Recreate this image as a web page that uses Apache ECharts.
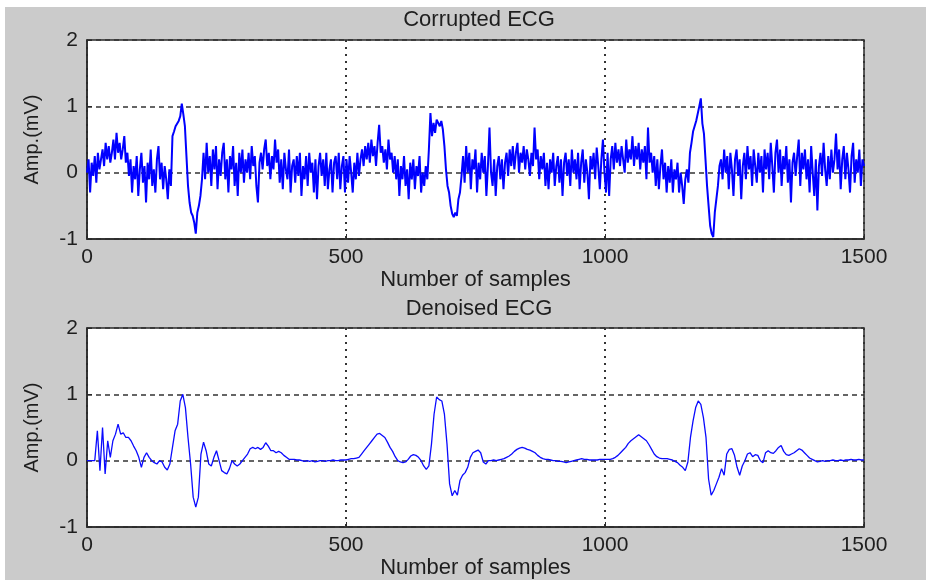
<!DOCTYPE html>
<html>
<head>
<meta charset="utf-8">
<script src="https://cdn.jsdelivr.net/npm/echarts@6/dist/echarts.min.js"></script>
<style>
  html, body { margin: 0; padding: 0; background: #ffffff; }
  #chart { width: 927px; height: 580px; }
</style>
</head>
<body>
<div id="chart"></div>
<script>
// sample spacing of each array
const CORRUPTED_STEP = 3;
const DENOISED_STEP = 5;

// corrupted ECG, one value every 3 samples (0..1500)
const corrupted = [
  0.0, 0.2, -0.3, 0.15, -0.05, 0.25, -0.15, 0.3, 0.05, 0.2, 0.35, 0.1, 0.45, 0.2, 0.4, 0.15, 0.3, 0.5, 0.2, 0.6,
  0.3, 0.45, 0.2, 0.35, 0.55, 0.15, 0.3, -0.05, 0.2, -0.3, 0.1, -0.1, 0.25, -0.35, 0.05, 0.3, -0.15, 0.1, -0.45, 0.15,
  -0.1, 0.35, -0.2, 0.05, -0.3, 0.2, 0.4, -0.1, 0.15, -0.25, 0.1, -0.1, -0.4, 0.05, -0.2, 0.55, 0.62, 0.7, 0.68, 0.78,
  0.85, 1.04, 0.88, 0.7, 0.25, -0.2, -0.45, -0.6, -0.65, -0.75, -0.92, -0.6, -0.5, -0.35, -0.1, 0.3, -0.1, 0.45, 0.0, 0.25,
  -0.2, 0.35, 0.05, 0.4, -0.25, 0.2, -0.05, 0.3, 0.45, -0.1, 0.2, -0.3, 0.25, 0.05, 0.4, -0.2, 0.15, -0.35, 0.3, 0.0,
  0.35, -0.15, 0.2, 0.0, 0.3, -0.1, 0.4, 0.1, 0.25, -0.2, -0.45, 0.15, 0.3, 0.05, 0.35, 0.5, 0.1, 0.3, -0.1, 0.25,
  0.05, 0.5, 0.15, 0.35, -0.15, 0.2, -0.25, 0.3, 0.05, -0.1, 0.35, -0.3, 0.1, 0.2, -0.15, 0.25, -0.05, 0.3, -0.35, 0.1,
  -0.1, 0.25, -0.2, 0.3, 0.0, 0.15, -0.3, 0.2, -0.4, 0.1, 0.3, -0.05, 0.2, -0.2, 0.3, -0.25, 0.05, 0.2, -0.3, 0.15,
  0.25, -0.1, 0.3, -0.25, 0.1, 0.25, -0.3, 0.2, -0.15, 0.25, 0.0, -0.3, 0.15, -0.1, 0.3, -0.05, 0.2, 0.35, 0.1, 0.4,
  0.2, 0.45, 0.15, 0.5, 0.25, 0.4, 0.1, 0.45, 0.72, 0.3, 0.4, 0.15, 0.35, 0.05, 0.5, 0.2, 0.3, 0.0, 0.25, -0.1,
  0.2, -0.35, 0.1, -0.1, 0.25, -0.2, 0.05, -0.4, 0.15, -0.1, 0.2, -0.25, 0.1, -0.05, 0.25, -0.3, 0.0, -0.2, 0.1, -0.1,
  0.35, 0.9, 0.55, 0.75, 0.6, 0.8, 0.83, 0.7, 0.78, 0.65, 0.4, 0.05, -0.2, -0.3, -0.5, -0.62, -0.67, -0.6, -0.65, -0.4,
  -0.3, -0.05, 0.25, -0.15, 0.4, 0.0, 0.3, -0.25, 0.2, 0.05, 0.35, -0.3, 0.15, -0.1, 0.3, 0.0, 0.25, -0.35, 0.1, 0.68,
  0.0, -0.2, 0.2, -0.35, 0.1, 0.25, -0.1, 0.2, -0.25, 0.15, 0.3, -0.05, 0.35, 0.1, 0.4, 0.05, 0.3, 0.45, 0.0, 0.3,
  0.15, 0.4, 0.05, 0.35, 0.2, -0.05, 0.3, 0.1, 0.68, 0.2, 0.35, -0.1, 0.25, 0.05, 0.3, -0.2, 0.15, -0.25, 0.2, 0.0,
  0.3, -0.2, 0.1, 0.25, -0.15, 0.2, -0.35, 0.15, 0.3, -0.05, 0.2, -0.2, 0.35, 0.0, 0.2, -0.1, 0.3, -0.25, 0.15, 0.35,
  -0.15, 0.2, 0.0, -0.4, 0.25, 0.05, 0.3, -0.1, 0.38, 0.1, -0.25, 0.2, 0.5, 0.0, -0.3, 0.3, -0.35, 0.2, 0.4, 0.05,
  0.45, 0.15, 0.35, 0.1, 0.4, 0.2, 0.0, 0.5, 0.15, 0.35, 0.2, 0.55, 0.1, 0.4, 0.2, 0.45, 0.05, 0.35, 0.15, 0.4,
  -0.1, 0.68, 0.15, 0.3, 0.0, 0.25, -0.2, 0.2, -0.25, 0.1, 0.35, -0.1, 0.15, -0.3, 0.1, -0.15, 0.2, -0.3, 0.05, -0.1,
  0.15, -0.3, 0.0, -0.2, -0.47, -0.1, 0.05, -0.15, 0.3, 0.45, 0.62, 0.7, 0.78, 0.8, 1.0, 1.12, 0.74, 0.59, 0.2, -0.2,
  -0.5, -0.8, -0.92, -0.97, -0.6, -0.4, -0.2, 0.1, 0.2, -0.1, 0.35, 0.0, 0.25, -0.25, 0.3, 0.05, -0.35, 0.2, 0.35, -0.05,
  0.2, -0.4, 0.1, 0.3, -0.1, 0.4, 0.05, 0.25, -0.2, 0.35, 0.1, -0.15, 0.3, 0.0, 0.25, -0.3, 0.35, 0.05, 0.3, -0.1,
  0.45, 0.1, -0.3, 0.3, 0.5, 0.0, 0.35, -0.2, 0.25, 0.05, 0.4, -0.15, 0.2, -0.45, 0.15, 0.3, -0.05, 0.25, 0.5, -0.2,
  0.3, 0.05, 0.35, -0.1, 0.2, -0.3, 0.4, 0.0, -0.35, 0.2, -0.57, 0.1, 0.3, -0.05, 0.45, 0.05, -0.2, 0.25, -0.1, 0.35,
  0.0, 0.2, 0.59, 0.05, 0.35, -0.25, 0.2, 0.4, -0.1, 0.3, 0.05, -0.3, 0.25, 0.45, -0.15, 0.2, 0.0, 0.35, -0.2, 0.2,
  0.1
];

// denoised ECG, one value every 5 samples (0..1500)
const denoised = [
  0, 0, 0, 0, 0.45, -0.15, 0.5, -0.2, 0.3, 0.05, 0.3, 0.4, 0.55, 0.4, 0.42, 0.35, 0.35, 0.3, 0.22, 0.15,
  0.05, -0.1, 0.05, 0.12, 0.05, 0.0, -0.03, -0.05, 0.0, -0.02, -0.1, -0.14, -0.05, 0.2, 0.45, 0.55, 0.9, 1.0, 0.8, 0.35,
  -0.05, -0.55, -0.7, -0.55, 0.1, 0.28, 0.15, -0.05, -0.08, 0.05, 0.15, 0.0, -0.15, -0.18, -0.2, -0.12, 0.0, -0.05, -0.08, -0.05,
  0.0, 0.05, 0.1, 0.18, 0.2, 0.18, 0.2, 0.17, 0.2, 0.27, 0.22, 0.15, 0.15, 0.12, 0.14, 0.12, 0.08, 0.05, 0.02, 0.02,
  0.02, 0.01, 0.01, 0.0, -0.01, 0.0, -0.01, 0.0, -0.02, -0.01, 0.0, 0.0, -0.01, 0.0, 0.0, 0.01, 0.0, 0.0, 0.01, 0.01,
  0.01, 0.02, 0.03, 0.03, 0.04, 0.05, 0.1, 0.15, 0.2, 0.25, 0.3, 0.35, 0.4, 0.41, 0.38, 0.35, 0.28, 0.2, 0.14, 0.06,
  0.0, -0.02, -0.03, -0.02, 0.02, 0.07, 0.09, 0.08, 0.05, 0.0, -0.08, -0.13, -0.08, 0.25, 0.7, 0.96, 0.92, 0.9, 0.7, 0.25,
  -0.35, -0.53, -0.45, -0.52, -0.3, -0.22, -0.18, -0.1, 0.05, 0.12, 0.14, 0.16, 0.12, -0.02, -0.05, 0.0, 0.0, 0.01, 0.0, 0.01,
  0.02, 0.03, 0.05, 0.07, 0.1, 0.14, 0.17, 0.19, 0.2, 0.19, 0.17, 0.16, 0.14, 0.12, 0.08, 0.05, 0.03, 0.02, 0.02, 0.01,
  0.0, 0.0, -0.01, -0.01, -0.02, -0.03, -0.02, -0.01, 0.0, 0.01, 0.02, 0.03, 0.02, 0.02, 0.01, 0.01, 0.01, 0.01, 0.02, 0.02,
  0.02, 0.02, 0.02, 0.03, 0.05, 0.08, 0.12, 0.16, 0.2, 0.26, 0.3, 0.33, 0.36, 0.39, 0.36, 0.33, 0.3, 0.24, 0.17, 0.1,
  0.06, 0.04, 0.03, 0.03, 0.03, 0.02, 0.01, -0.01, -0.03, -0.07, -0.1, -0.15, -0.02, 0.35, 0.6, 0.8, 0.9, 0.85, 0.65, 0.35,
  -0.28, -0.52, -0.45, -0.35, -0.25, -0.12, -0.22, 0.1, 0.17, 0.18, 0.08, -0.1, -0.22, -0.08, 0.0, 0.1, 0.12, 0.06, 0.09, 0.08,
  0.0, -0.03, 0.12, 0.15, 0.12, 0.11, 0.15, 0.2, 0.23, 0.14, 0.09, 0.08, 0.1, 0.12, 0.15, 0.18, 0.16, 0.12, 0.08, 0.04,
  0.02, 0.0, -0.02, -0.01, 0.0, -0.01, 0.0, 0.0, 0.01, 0.0, 0.0, 0.01, 0.0, 0.01, 0.01, 0.02, 0.01, 0.01, 0.02, 0.01,
  0.01
];

const titles = ['Corrupted ECG', 'Denoised ECG'];
const xTicks = [0, 500, 1000, 1500];
const yTicks = [-1, 0, 1, 2];

const chart = echarts.init(document.getElementById('chart'));

const font = 'Liberation Sans, Arial, sans-serif';
const textColor = '#1e1e1e';
const labelStyle = { color: textColor, fontSize: 21, fontFamily: font };

const toPairs = (arr, step) => arr.map((v, i) => [i * step, v]);

const grids = [
  { left: 87, top: 40, width: 777, height: 199 },
  { left: 87, top: 328, width: 777, height: 200 }
];

const makeX = (idx) => ({
  type: 'value',
  gridIndex: idx,
  min: xTicks[0],
  max: xTicks[xTicks.length - 1],
  interval: 500,
  name: 'Number of samples',
  nameLocation: 'middle',
  nameGap: 30,
  nameTextStyle: { color: textColor, fontSize: 22, fontFamily: font },
  axisLine: { show: true, onZero: false, lineStyle: { color: '#2a2a2a', width: 1.5 } },
  axisTick: { show: true, inside: true, length: 5, lineStyle: { color: '#2a2a2a' } },
  axisLabel: { ...labelStyle, margin: 8, formatter: (v) => String(v) },
  splitLine: { show: true, lineStyle: { color: '#333333', width: 2, type: [2, 5] } }
});

const makeY = (idx) => ({
  type: 'value',
  gridIndex: idx,
  min: yTicks[0],
  max: yTicks[yTicks.length - 1],
  interval: 1,
  name: 'Amp.(mV)',
  nameLocation: 'middle',
  nameGap: 45,
  nameTextStyle: { color: textColor, fontSize: 20, fontFamily: font },
  axisLine: { show: true, onZero: false, lineStyle: { color: '#2a2a2a', width: 1.5 } },
  axisTick: { show: true, inside: true, length: 5, lineStyle: { color: '#2a2a2a' } },
  axisLabel: { ...labelStyle, margin: 9 },
  splitLine: { show: true, lineStyle: { color: '#333333', width: 1.5, type: [5, 4] } }
});

const option = {
  backgroundColor: '#ffffff',
  animation: false,
  graphic: [
    {
      type: 'rect',
      z: -10,
      shape: { x: 5, y: 7, width: 921, height: 573 },
      style: { fill: '#cbcbcb' }
    }
  ],
  title: titles.map((t, i) => ({
    text: t,
    left: 474,
    top: i === 0 ? 4 : 293,
    textAlign: 'center',
    textStyle: { color: textColor, fontSize: 22, fontWeight: 'normal', fontFamily: font }
  })),
  grid: grids.map((g) => ({
    ...g,
    show: true,
    backgroundColor: '#ffffff',
    borderColor: '#2a2a2a',
    borderWidth: 1.5
  })),
  xAxis: [makeX(0), makeX(1)],
  yAxis: [makeY(0), makeY(1)],
  series: [
    {
      name: titles[0],
      type: 'line',
      xAxisIndex: 0,
      yAxisIndex: 0,
      data: toPairs(corrupted, CORRUPTED_STEP),
      symbol: 'none',
      lineStyle: { color: '#0000ff', width: 2 }
    },
    {
      name: titles[1],
      type: 'line',
      xAxisIndex: 1,
      yAxisIndex: 1,
      data: toPairs(denoised, DENOISED_STEP),
      symbol: 'none',
      lineStyle: { color: '#0a0aff', width: 1.3 }
    }
  ]
};

chart.setOption(option);
</script>
</body>
</html>
